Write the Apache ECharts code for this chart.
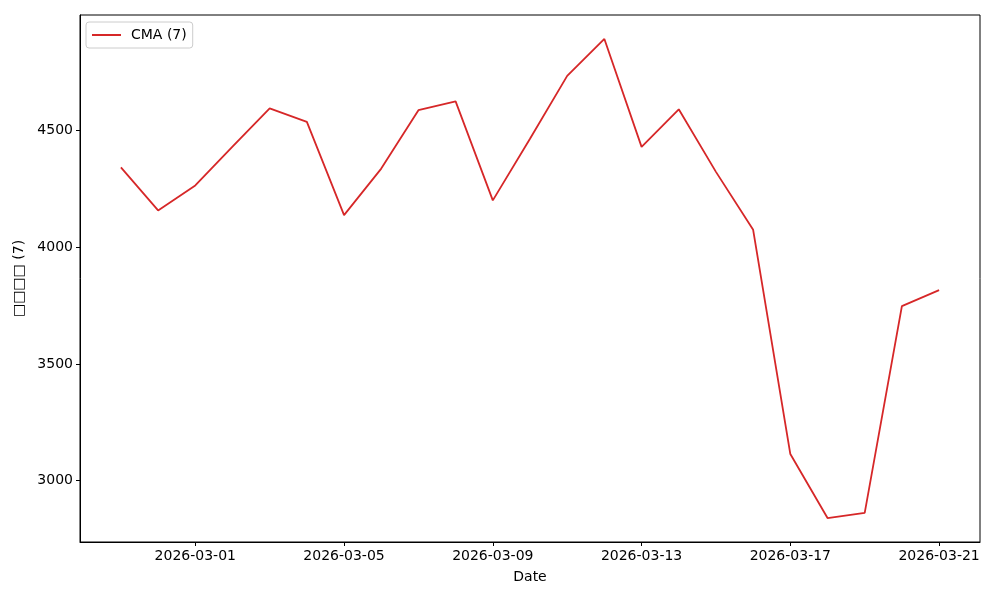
<!DOCTYPE html>
<html>
<head>
<meta charset="utf-8">
<script src="https://cdn.jsdelivr.net/npm/echarts@6/dist/echarts.min.js"></script>
<style>html,body{margin:0;padding:0;background:#fff}#c{width:1000px;height:600px}</style>
</head>
<body>
<div id="c"></div>
<script>
const dates = ['2026-02-27','2026-02-28','2026-03-01','2026-03-02','2026-03-03','2026-03-04','2026-03-05','2026-03-06','2026-03-07','2026-03-08','2026-03-09','2026-03-10','2026-03-11','2026-03-12','2026-03-13','2026-03-14','2026-03-15','2026-03-16','2026-03-17','2026-03-18','2026-03-19','2026-03-20','2026-03-21'];
const cma = [4341,4157,4264,4430,4594,4536,4137,4336,4586,4624,4200,4464,4733,4891,4429,4590,4322,4074,3114,2840,2862,3747,3816];
const xTickLabels = ['2026-03-01','2026-03-05','2026-03-09','2026-03-13','2026-03-17','2026-03-21'];
const yTicks = [3000,3500,4000,4500];
const seriesName = 'CMA (7)';
const xTitle = 'Date';
const yTitle = '□□□□ (7)';

const DAY = 86400000;
const base = Date.UTC(2026,2,1);
const toDay = s => { const p = s.split('-').map(Number); return (Date.UTC(p[0],p[1]-1,p[2]) - base) / DAY; };
const fromDay = d => { const t = new Date(base + Math.round(d) * DAY); return t.toISOString().slice(0,10); };

const dataPts = dates.map((d,i) => [toDay(d), cma[i]]);
const xs = dataPts.map(p=>p[0]);
const xmin = Math.min(...xs), xmax = Math.max(...xs);
const xpad = (xmax - xmin) * 0.05;
const ymin0 = Math.min(...cma), ymax0 = Math.max(...cma);
const ypad = (ymax0 - ymin0) * 0.05;

const font = 'DejaVu Sans';
const fs = 14;
const chart = echarts.init(document.getElementById('c'), null, {renderer:'canvas'});
chart.setOption({
  animation: false,
  backgroundColor: '#fff',
  textStyle: {fontFamily: font},
  grid: {left: 80, right: 20, top: 15, bottom: 58, show: true, borderColor: '#000', borderWidth: 1, containLabel: false},
  legend: {
    left: 86, top: 22, padding: [6, 6, 6, 6],
    data: [{name: seriesName, icon: 'rect'}],
    itemWidth: 29, itemHeight: 2, itemGap: 10,
    borderColor: '#cccccc', borderWidth: 1, borderRadius: 3,
    textStyle: {fontFamily: font, fontSize: fs, color: '#000', padding: [0, 0, 0, 5]}
  },
  xAxis: {
    type: 'value', min: xmin - xpad, max: xmax + xpad,
    name: xTitle, nameLocation: 'middle', nameGap: 28,
    nameTextStyle: {fontFamily: font, fontSize: fs, color: '#000'},
    axisLine: {show: true, onZero: false, lineStyle: {color: '#000', width: 1}},
    axisTick: {show: true, inside: false, length: 4, customValues: xTickLabels.map(toDay), lineStyle: {color: '#000'}},
    axisLabel: {customValues: xTickLabels.map(toDay), formatter: v => fromDay(v), color: '#000', fontSize: fs, fontFamily: font, margin: 7},
    splitLine: {show: false}
  },
  yAxis: {
    type: 'value', min: ymin0 - ypad, max: ymax0 + ypad,
    name: yTitle, nameLocation: 'middle', nameGap: 54, nameRotate: 90,
    nameTextStyle: {fontFamily: font, fontSize: fs, color: '#000'},
    axisLine: {show: true, onZero: false, lineStyle: {color: '#000', width: 1}},
    axisTick: {show: true, inside: false, length: 4, customValues: yTicks, lineStyle: {color: '#000'}},
    axisLabel: {customValues: yTicks, formatter: v => String(v), color: '#000', fontSize: fs, fontFamily: font, margin: 7},
    splitLine: {show: false}
  },
  series: [{
    name: seriesName, type: 'line', data: dataPts, symbol: 'none',
    lineStyle: {color: '#d62728', width: 1.8}, itemStyle: {color: '#d62728'}
  }]
});
</script>
</body>
</html>
